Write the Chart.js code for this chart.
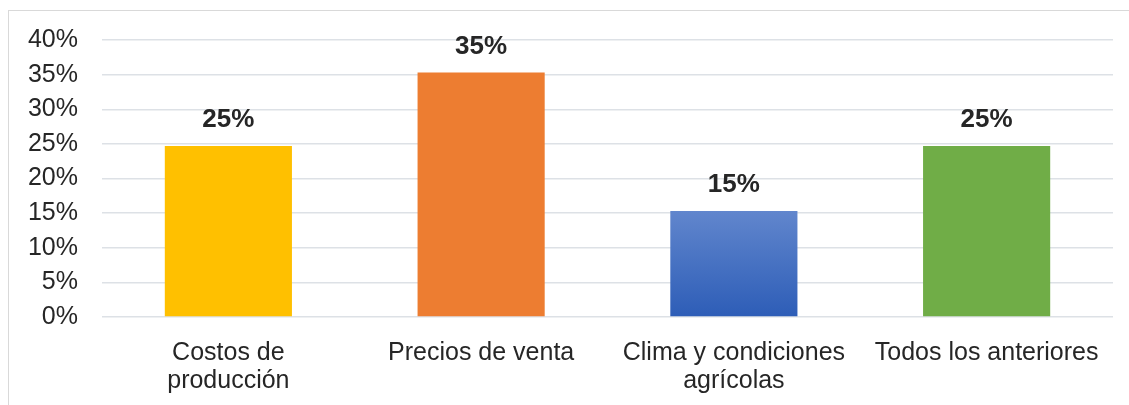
<!DOCTYPE html>
<html>
<head>
<meta charset="utf-8">
<script src="https://cdn.jsdelivr.net/npm/chart.js@4/dist/chart.umd.min.js"></script>
<style>
  html, body { margin: 0; padding: 0; background: #fff; }
  #wrap { position: relative; width: 1129px; height: 405px; }
  #frame { position: absolute; left: 8px; top: 10px; width: 1140px; height: 420px; border-left: 1px solid #d9d9d9; border-top: 1px solid #d9d9d9; }
  canvas { position: absolute; left: 0; top: 0; }
</style>
</head>
<body>
<div id="wrap">
  <div id="frame"></div>
  <canvas id="chart" width="1129" height="405"></canvas>
</div>
<script>
var categories = [['Costos de', 'producción'], 'Precios de venta', ['Clima y condiciones', 'agrícolas'], 'Todos los anteriores'];
var values = [0.247, 0.353, 0.153, 0.247];
var colors = ['#FFC000', '#ED7D31', 'blue-gradient', '#70AD47'];
var yTicks = [0, 0.05, 0.10, 0.15, 0.20, 0.25, 0.30, 0.35, 0.40];

var fontFamily = '"Liberation Sans", Arial, sans-serif';

function barColor(context) {
    var c = colors[context.dataIndex];
    if (c !== 'blue-gradient') return c;
    var chart = context.chart;
    if (!chart.chartArea) return '#4472C4';
    var y = chart.scales.y;
    var top = y.getPixelForValue(values[context.dataIndex]);
    var bottom = y.getPixelForValue(0);
    var g = chart.ctx.createLinearGradient(0, top, 0, bottom);
    g.addColorStop(0, '#6186cd');
    g.addColorStop(1, '#2d5db7');
    return g;
}

var barLabels = {
    id: 'barLabels',
    afterDatasetsDraw: function (chart) {
        var ctx = chart.ctx;
        var meta = chart.getDatasetMeta(0);
        ctx.save();
        ctx.font = 'bold 26px ' + fontFamily;
        ctx.fillStyle = '#262626';
        ctx.textAlign = 'center';
        ctx.textBaseline = 'middle';
        meta.data.forEach(function (bar, i) {
            ctx.fillText(Math.round(values[i] * 100) + '%', bar.x, bar.y - 26);
        });
        ctx.restore();
    }
};

var ctx = document.getElementById('chart').getContext('2d');
var chart = new Chart(ctx, {
    type: 'bar',
    data: {
        labels: categories,
        datasets: [{
            data: values,
            backgroundColor: barColor,
            borderWidth: 0,
            categoryPercentage: 1,
            barPercentage: 0.503
        }]
    },
    options: {
        responsive: false,
        animation: false,
        layout: { padding: { top: 40, right: 16, left: 0, bottom: 0 } },
        plugins: {
            legend: { display: false },
            tooltip: { enabled: false }
        },
        scales: {
            x: {
                grid: { display: false, drawTicks: false },
                border: { display: false },
                ticks: {
                    color: '#262626',
                    padding: 22,
                    maxRotation: 0,
                    autoSkip: false,
                    font: { family: fontFamily, size: 25, lineHeight: 1.12 }
                },
                afterFit: function (scale) { scale.height = 88; }
            },
            y: {
                min: 0,
                max: 0.4,
                afterBuildTicks: function (scale) {
                    scale.ticks = yTicks.map(function (v) { return { value: v }; });
                },
                grid: { color: '#dde1e6', lineWidth: 1.5, drawTicks: false },
                border: { display: false },
                ticks: {
                    color: '#262626',
                    padding: 24,
                    font: { family: fontFamily, size: 25 },
                    callback: function (v) { return Math.round(v * 100) + '%'; }
                },
                afterFit: function (scale) { scale.width = 102; }
            }
        }
    },
    plugins: [barLabels]
});
</script>
</body>
</html>
